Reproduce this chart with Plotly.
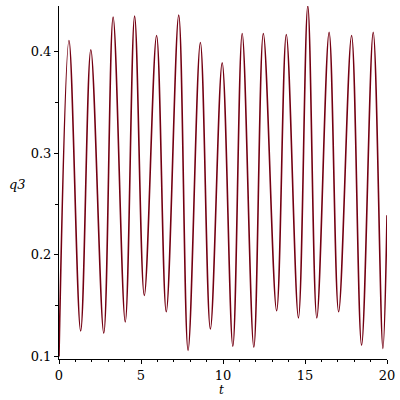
import plotly.graph_objects as go

# turning points of q3(t)
t_vals = [0.0, 0.61, 1.32, 1.94, 2.73, 3.30, 4.04, 4.61, 5.20, 5.95, 6.54,
          7.30, 7.87, 8.62, 9.23, 9.95, 10.60, 11.17, 11.88, 12.46, 13.27,
          13.86, 14.60, 15.17, 15.72, 16.47, 17.05, 17.84, 18.45, 19.16,
          19.75, 20.0]
q3_vals = [0.100, 0.411, 0.125, 0.402, 0.123, 0.434, 0.134, 0.435, 0.160,
           0.416, 0.144, 0.436, 0.106, 0.409, 0.127, 0.389, 0.110, 0.418,
           0.109, 0.418, 0.145, 0.417, 0.138, 0.445, 0.138, 0.419, 0.144,
           0.416, 0.111, 0.419, 0.108, 0.239]

fig = go.Figure()

fig.add_trace(go.Scatter(
    x=t_vals, y=q3_vals,
    mode="lines",
    line=dict(color="#740012", width=1.6, shape="spline", smoothing=1.0),
    showlegend=False,
    hoverinfo="skip"
))

axis_font = dict(family="DejaVu Serif", size=13, color="black")

fig.update_layout(
    width=400, height=400,
    margin=dict(l=59, r=13, t=6, b=41),
    plot_bgcolor="white",
    paper_bgcolor="white",
    xaxis=dict(
        range=[0, 20],
        showgrid=False, zeroline=False,
        showline=True, linecolor="black", linewidth=1,
        ticks="outside", ticklen=4, tickcolor="black",
        tickvals=[0, 5, 10, 15, 20],
        tickfont=axis_font,
        minor=dict(tickvals=[1, 2, 3, 4, 6, 7, 8, 9, 11, 12, 13, 14,
                             16, 17, 18, 19],
                   ticks="outside", ticklen=2, tickcolor="black"),
    ),
    yaxis=dict(
        range=[0.0975, 0.445],
        showgrid=False, zeroline=False,
        showline=True, linecolor="black", linewidth=1,
        ticks="outside", ticklen=4, tickcolor="black",
        tickvals=[0.1, 0.2, 0.3, 0.4],
        tickformat=".1f",
        tickfont=axis_font,
        minor=dict(tickvals=[0.15, 0.25, 0.35], ticks="outside",
                   ticklen=3, tickcolor="black"),
    ),
    annotations=[
        dict(text="<i>q3</i>", x=-0.128, y=0.493, xref="paper", yref="paper",
             xanchor="center", yanchor="middle", showarrow=False,
             font=dict(family="DejaVu Serif", size=13, color="black")),
        dict(text="<i>t</i>", x=0.496, y=-0.088, xref="paper", yref="paper",
             xanchor="center", yanchor="middle", showarrow=False,
             font=dict(family="DejaVu Serif", size=12, color="black")),
    ],
)

fig.write_html("out.html", config={"displayModeBar": False},
               post_script="document.body.style.margin='0';")
